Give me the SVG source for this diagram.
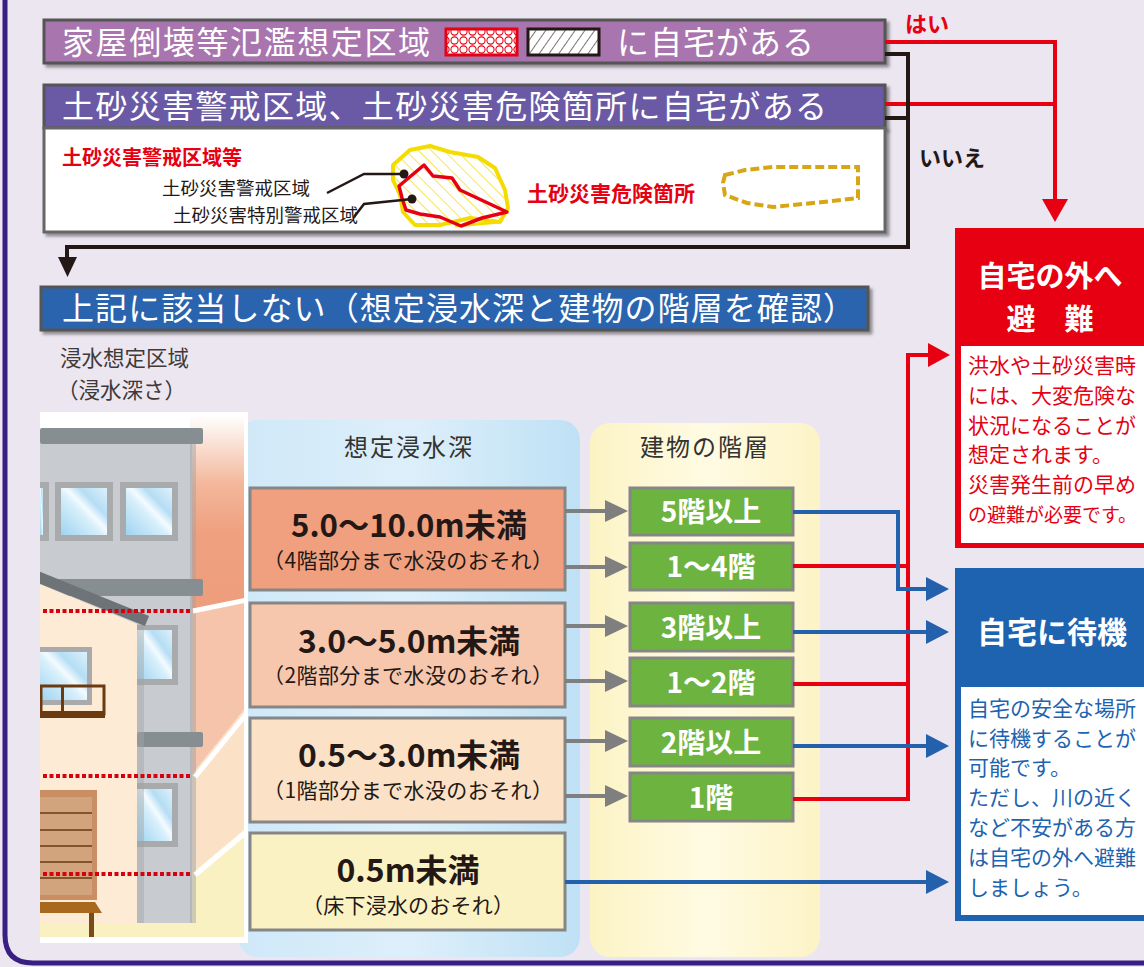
<svg xmlns="http://www.w3.org/2000/svg" width="1144" height="967" viewBox="0 0 1144 967">
  <defs>
    <style>
      .jp { font-family: "Noto Sans CJK JP", "Noto Sans", sans-serif; }
      .bar-text { font-family: "Noto Sans CJK JP", sans-serif; fill: #fff; font-size: 32px; }
      .bar { stroke: #555; stroke-width: 3; filter: url(#shadow); }
      .conn-red { fill: none; stroke: #E60012; stroke-width: 4; }
      .conn-blue { fill: none; stroke: #2461AD; stroke-width: 4; }
      .conn-black { fill: none; stroke: #231815; stroke-width: 4; }
      .conn-gray { fill: none; stroke: #7F7F7F; stroke-width: 4; }
      .depth-box { stroke: #868686; stroke-width: 3; }
      .depth-main { font-family: "Noto Sans CJK JP", sans-serif; font-weight: 700; font-size: 32px; fill: #231815; text-anchor: middle; }
      .depth-sub { font-family: "Noto Sans CJK JP", sans-serif; font-size: 21px; fill: #231815; text-anchor: middle; }
      .floor-box { fill: #6DB33F; stroke: #868686; stroke-width: 3; }
      .floor-text { font-family: "Noto Sans CJK JP", sans-serif; font-weight: 700; font-size: 28px; fill: #fff; text-anchor: middle; }
      .col-head { font-family: "Noto Sans CJK JP", sans-serif; font-size: 24px; fill: #333; text-anchor: middle; letter-spacing: 2px; }
      .red-note { font-family: "Noto Sans CJK JP", sans-serif; font-size: 21px; fill: #E60012; }
      .red-note.tight { font-size: 19px; }
      .blue-note { font-family: "Noto Sans CJK JP", sans-serif; font-size: 21px; fill: #1D63B0; }
      .glass { fill: url(#glassGrad); }
      .frame { fill: #A8AAAC; }
      .dots { stroke: #D7000F; stroke-width: 4; stroke-dasharray: 4 2.5; }
      .gap-line { stroke: #fff; stroke-width: 5; }
    </style>
    <filter id="shadow" x="-5%" y="-20%" width="110%" height="150%">
      <feDropShadow dx="3" dy="3" stdDeviation="1.5" flood-color="#444" flood-opacity="0.55"/>
    </filter>
    <pattern id="circles" width="9" height="9" patternUnits="userSpaceOnUse">
      <rect width="9" height="9" fill="#fff"/>
      <circle cx="4.5" cy="4.5" r="3.6" fill="none" stroke="#E60012" stroke-width="1.1"/>
    </pattern>
    <pattern id="hatchBlack" width="8" height="8" patternUnits="userSpaceOnUse" patternTransform="rotate(35)">
      <rect width="8" height="8" fill="#fff"/>
      <line x1="0" y1="0" x2="0" y2="8" stroke="#231815" stroke-width="1.2"/>
    </pattern>
    <pattern id="hatchYellow" width="9" height="9" patternUnits="userSpaceOnUse" patternTransform="rotate(-45)">
      <rect width="9" height="9" fill="#fff"/>
      <line x1="0" y1="0" x2="0" y2="9" stroke="#F2D600" stroke-width="1.3"/>
    </pattern>
    <linearGradient id="glassGrad" x1="0" y1="1" x2="1" y2="0">
      <stop offset="0" stop-color="#9FD3F0"/>
      <stop offset="0.45" stop-color="#D7EFFB"/>
      <stop offset="0.55" stop-color="#F4FBFF"/>
      <stop offset="0.7" stop-color="#B5DDF4"/>
      <stop offset="1" stop-color="#DDF1FC"/>
    </linearGradient>
    <linearGradient id="topBand" x1="0" y1="0" x2="0" y2="1">
      <stop offset="0" stop-color="#FFFFFF"/>
      <stop offset="0.35" stop-color="#F3B79B"/>
      <stop offset="0.6" stop-color="#EFA07F"/>
      <stop offset="1" stop-color="#EE9E7D"/>
    </linearGradient>
    <linearGradient id="bluePanel" x1="0" y1="0" x2="1" y2="0">
      <stop offset="0" stop-color="#CFE8F8"/>
      <stop offset="0.5" stop-color="#DDEFFA"/>
      <stop offset="1" stop-color="#BFE1F5"/>
    </linearGradient>
    <linearGradient id="yellowPanel" x1="0" y1="0" x2="1" y2="0">
      <stop offset="0" stop-color="#FCF3C4"/>
      <stop offset="0.5" stop-color="#FFFBE3"/>
      <stop offset="1" stop-color="#FCF3C6"/>
    </linearGradient>
    <clipPath id="illusClip">
      <rect x="40" y="412" width="208" height="531"/>
    </clipPath>
  </defs>

  <!-- page background and frame -->
  <rect x="0" y="0" width="1144" height="967" fill="#ECE6F1"/>
  <path d="M5,0 V935 Q5,963 33,963 H1144" fill="none" stroke="#3A1F82" stroke-width="5"/>

  <!-- step 1: inundation zone where houses may collapse -->
  <g id="q-collapse">
    <rect class="bar" x="44" y="20" width="841" height="43" fill="#A975AE"/>
    <text class="bar-text" x="62" y="54" textLength="368" lengthAdjust="spacing">家屋倒壊等氾濫想定区域</text>
    <rect x="446" y="29" width="71" height="26" fill="url(#circles)" stroke="#E60012" stroke-width="3"/>
    <rect x="528" y="29" width="71" height="26" fill="url(#hatchBlack)" stroke="#231815" stroke-width="3"/>
    <text class="bar-text" x="617" y="54" textLength="197" lengthAdjust="spacing">に自宅がある</text>
  </g>

  <!-- step 2: landslide warning zones -->
  <g id="q-landslide">
    <rect class="bar" x="44" y="85" width="841" height="43" fill="#6A5AA6"/>
    <text class="bar-text" x="62" y="118" textLength="765" lengthAdjust="spacing">土砂災害警戒区域、土砂災害危険箇所に自宅がある</text>
  </g>

  <!-- legend for landslide zones -->
  <g id="landslide-legend">
    <rect x="44" y="128" width="841" height="104" fill="#fff" stroke="#666" stroke-width="3" filter="url(#shadow)"/>
    <text class="jp" x="62" y="165" font-size="20" font-weight="700" fill="#E60012">土砂災害警戒区域等</text>
    <text class="jp" x="162" y="195" font-size="18.5" fill="#231815">土砂災害警戒区域</text>
    <text class="jp" x="173" y="222" font-size="18.5" fill="#231815">土砂災害特別警戒区域</text>
    <path d="M393,165 L410,150 L430,146 L450,152 L478,157 L495,168 L505,190 L508,208 L500,222 L470,218 L440,225 L415,225 L403,212 L400,195 L393,180 Z" fill="url(#hatchYellow)" stroke="#F5DC00" stroke-width="4" stroke-linejoin="round"/>
    <path d="M455,226 L500,222" stroke="#F5DC00" stroke-width="3"/>
    <path d="M399,186 L424,165 L433,176 L452,178 L460,190 L507,212 L482,218 L461,226 L440,217 L420,214 L406,210 L402,198 Z" fill="none" stroke="#E60012" stroke-width="3.5" stroke-linejoin="round"/>
    <path d="M327,193 L364,174 L404,174" fill="none" stroke="#231815" stroke-width="2.5"/>
    <circle cx="404" cy="174" r="4.5" fill="#231815"/>
    <path d="M354,217 L364,204 L412,199" fill="none" stroke="#231815" stroke-width="2.5"/>
    <circle cx="412" cy="199" r="4.5" fill="#231815"/>
    <text class="jp" x="527" y="201" font-size="21" font-weight="700" fill="#E60012">土砂災害危険箇所</text>
    <path d="M725,175 L745,170 L773,167 L858,167 L858,198 L823,202 L773,207 L747,203 L725,195 L723,183 Z" fill="none" stroke="#D8A514" stroke-width="4" stroke-dasharray="9 4"/>
  </g>

  <!-- step 3: otherwise check depth and floor -->
  <g id="q-other">
    <rect class="bar" x="41" y="287" width="827" height="43" fill="#2B63AE"/>
    <text class="bar-text" x="62" y="320" textLength="793" lengthAdjust="spacing">上記に該当しない（想定浸水深と建物の階層を確認）</text>
  </g>

  <!-- answer labels -->
  <text class="jp" x="905" y="32" font-size="22" font-weight="700" fill="#E60012">はい</text>
  <text class="jp" x="919" y="166" font-size="22" font-weight="700" fill="#231815">いいえ</text>

  <!-- area caption -->
  <g id="area-caption">
    <text class="jp" x="60" y="366" font-size="21.5" fill="#3E3A39">浸水想定区域</text>
    <text class="jp" x="57" y="398" font-size="21.5" fill="#3E3A39">（浸水深さ）</text>
  </g>

  <!-- column panels -->
  <rect x="238" y="420" width="342" height="537" rx="20" fill="url(#bluePanel)"/>
  <rect x="590" y="423" width="230" height="534" rx="20" fill="url(#yellowPanel)"/>
  <text class="col-head" x="409" y="456">想定浸水深</text>
  <text class="col-head" x="705" y="456">建物の階層</text>

  <!-- building cross-section illustration -->
  <g id="building" clip-path="url(#illusClip)">
    <rect x="40" y="412" width="208" height="531" fill="#fff"/>
    <polygon points="190,415 244,415 244,600 190,612" fill="url(#topBand)"/>
    <polygon points="190,612 244,600 244,710 190,777" fill="#F5C4AA"/>
    <polygon points="190,777 244,710 244,830 190,875" fill="#FBE1C6"/>
    <polygon points="190,875 244,830 244,937 190,937" fill="#FAF1C2"/>
    <rect x="40" y="923" width="204" height="14" fill="#FAF1C2"/>
    <!-- tall building -->
    <rect x="40" y="443" width="152" height="480" fill="#C8CCD1"/>
    <rect x="190" y="443" width="6" height="480" fill="#9FA3A7" opacity="0.5"/>
    <rect x="40" y="428" width="163" height="16" rx="2" fill="#878E92"/>
    <rect x="40" y="482" width="9" height="59" class="frame"/>
    <rect x="40" y="488" width="3" height="47" class="glass"/>
    <rect x="55" y="482" width="58" height="59" class="frame"/>
    <rect x="61" y="488" width="46" height="47" class="glass"/>
    <rect x="120" y="482" width="58" height="59" class="frame"/>
    <rect x="126" y="488" width="46" height="47" class="glass"/>
    <rect x="40" y="579" width="163" height="17" rx="2" fill="#878E92"/>
    <rect x="137" y="625" width="41" height="60" class="frame"/>
    <rect x="137" y="630" width="35" height="49" class="glass"/>
    <rect x="137" y="732" width="66" height="15" rx="2" fill="#878E92"/>
    <rect x="137" y="783" width="41" height="64" class="frame"/>
    <rect x="137" y="789" width="35" height="52" class="glass"/>
    <!-- low house -->
    <polygon points="40,584 137,624 137,923 40,923" fill="#FDEBD6"/>
    <rect x="137" y="624" width="7" height="299" fill="#9FA3A7" opacity="0.45"/>
    <line x1="36" y1="576" x2="147" y2="621" stroke="#6E7377" stroke-width="11"/>
    <rect x="40" y="647" width="52" height="58" class="frame"/>
    <rect x="40" y="652" width="47" height="48" class="glass"/>
    <rect x="41" y="686" width="63" height="28" fill="none" stroke="#6B3A10" stroke-width="3"/>
    <rect x="40" y="711" width="65" height="7" fill="#6B3A10"/>
    <rect x="61" y="686" width="3" height="28" fill="#6B3A10"/>
    <rect x="40" y="790" width="57" height="110" fill="#C98E64"/>
    <rect x="40" y="797" width="52" height="98" fill="#D2A47D"/>
    <g stroke="#6B3A10" stroke-width="1.5">
      <line x1="40" y1="813" x2="92" y2="813"/>
      <line x1="40" y1="830" x2="92" y2="830"/>
      <line x1="40" y1="846" x2="92" y2="846"/>
      <line x1="40" y1="862" x2="92" y2="862"/>
      <line x1="40" y1="878" x2="92" y2="878"/>
    </g>
    <polygon points="40,902 95,902 102,913 40,913" fill="#A8691F"/>
    <rect x="89" y="913" width="5" height="25" fill="#7A4A1A"/>
    <!-- water level markers -->
    <line class="dots" x1="43" y1="611" x2="191" y2="611"/>
    <line class="dots" x1="43" y1="776" x2="191" y2="776"/>
    <line class="dots" x1="43" y1="874" x2="191" y2="874"/>
    <line class="gap-line" x1="193" y1="611" x2="252" y2="599"/>
    <line class="gap-line" x1="195" y1="777" x2="252" y2="707"/>
    <line class="gap-line" x1="195" y1="875" x2="252" y2="827"/>
    <rect x="244" y="412" width="6" height="531" fill="#fff"/>
    <rect x="40" y="937" width="208" height="6" fill="#fff"/>
  </g>

  <!-- depth categories -->
  <g id="depth-5-10">
    <rect class="depth-box" x="250" y="488" width="315" height="102" fill="#F0A07F"/>
    <text class="depth-main" x="409" y="537" textLength="236" lengthAdjust="spacingAndGlyphs">5.0～10.0m未満</text>
    <text class="depth-sub" x="408" y="568" textLength="290">（4階部分まで水没のおそれ）</text>
  </g>
  <g id="depth-3-5">
    <rect class="depth-box" x="250" y="603" width="315" height="104" fill="#F6C7AD"/>
    <text class="depth-main" x="409" y="653" textLength="222" lengthAdjust="spacingAndGlyphs">3.0～5.0m未満</text>
    <text class="depth-sub" x="408" y="683" textLength="290">（2階部分まで水没のおそれ）</text>
  </g>
  <g id="depth-05-3">
    <rect class="depth-box" x="250" y="718" width="315" height="104" fill="#FBE1C6"/>
    <text class="depth-main" x="409" y="767" textLength="222" lengthAdjust="spacingAndGlyphs">0.5～3.0m未満</text>
    <text class="depth-sub" x="408" y="798" textLength="290">（1階部分まで水没のおそれ）</text>
  </g>
  <g id="depth-under-05">
    <rect class="depth-box" x="250" y="833" width="315" height="97" fill="#FAF2C3"/>
    <text class="depth-main" x="408" y="882">0.5m未満</text>
    <text class="depth-sub" x="408" y="913" textLength="212">（床下浸水のおそれ）</text>
  </g>

  <!-- floor categories -->
  <g id="floor-5up"><rect class="floor-box" x="630" y="488" width="163" height="47"/><text class="floor-text" x="711" y="522">5階以上</text></g>
  <g id="floor-1-4"><rect class="floor-box" x="630" y="543" width="163" height="47"/><text class="floor-text" x="711" y="577">1～4階</text></g>
  <g id="floor-3up"><rect class="floor-box" x="630" y="603" width="163" height="48"/><text class="floor-text" x="711" y="638">3階以上</text></g>
  <g id="floor-1-2"><rect class="floor-box" x="630" y="658" width="163" height="48"/><text class="floor-text" x="711" y="693">1～2階</text></g>
  <g id="floor-2up"><rect class="floor-box" x="630" y="718" width="163" height="48"/><text class="floor-text" x="711" y="753">2階以上</text></g>
  <g id="floor-1"><rect class="floor-box" x="630" y="773" width="163" height="48"/><text class="floor-text" x="711" y="808">1階</text></g>

  <!-- outcome: evacuate -->
  <g id="evacuate">
    <rect x="955" y="228" width="189" height="320" fill="#E60012"/>
    <text class="jp" x="1050" y="287" font-size="29" font-weight="700" fill="#fff" text-anchor="middle">自宅の外へ</text>
    <text class="jp" x="1050" y="330" font-size="29" font-weight="700" fill="#fff" text-anchor="middle">避　難</text>
    <rect x="961" y="346" width="183" height="197" fill="#fff"/>
    <text class="red-note" x="968" y="373">洪水や土砂災害時</text>
    <text class="red-note" x="968" y="403">には、大変危険な</text>
    <text class="red-note" x="968" y="433">状況になることが</text>
    <text class="red-note" x="968" y="462">想定されます。</text>
    <text class="red-note" x="968" y="492">災害発生前の早め</text>
    <text class="red-note tight" x="968" y="522">の避難が必要です。</text>
  </g>

  <!-- outcome: stay home -->
  <g id="stay-home">
    <rect x="955" y="568" width="189" height="353" fill="#1D63B0"/>
    <text class="jp" x="1052" y="643" font-size="30" font-weight="700" fill="#fff" text-anchor="middle">自宅に待機</text>
    <rect x="961" y="687" width="183" height="228" fill="#fff"/>
    <text class="blue-note" x="968" y="716">自宅の安全な場所</text>
    <text class="blue-note" x="968" y="746">に待機することが</text>
    <text class="blue-note" x="968" y="775">可能です。</text>
    <text class="blue-note" x="968" y="805">ただし、川の近く</text>
    <text class="blue-note" x="968" y="835">など不安がある方</text>
    <text class="blue-note" x="968" y="865">は自宅の外へ避難</text>
    <text class="blue-note" x="968" y="895">しましょう。</text>
  </g>

  <!-- connectors -->
  <g id="connectors">
    <!-- yes branches -->
    <path class="conn-red" d="M885,42 H1055 V200"/>
    <path d="M1042,199 L1068,199 L1055,222 Z" fill="#E60012"/>
    <path class="conn-red" d="M885,104 H1055"/>
    <!-- no branches -->
    <path class="conn-black" d="M885,54 H908 V247 H67 V258"/>
    <path class="conn-black" d="M885,118 H908"/>
    <path d="M58,257 L77,257 L67.5,277 Z" fill="#231815"/>
    <!-- depth to floor -->
    <path class="conn-gray" d="M565,511 H607"/>
    <path class="conn-gray" d="M565,567 H607"/>
    <path class="conn-gray" d="M565,626 H607"/>
    <path class="conn-gray" d="M565,681 H607"/>
    <path class="conn-gray" d="M565,741 H607"/>
    <path class="conn-gray" d="M565,796 H607"/>
    <g fill="#7F7F7F">
      <path d="M605,500 L628,511 L605,522 Z"/>
      <path d="M605,556 L628,567 L605,578 Z"/>
      <path d="M605,615 L628,626 L605,637 Z"/>
      <path d="M605,670 L628,681 L605,692 Z"/>
      <path d="M605,730 L628,741 L605,752 Z"/>
      <path d="M605,785 L628,796 L605,807 Z"/>
    </g>
    <!-- floors to evacuation -->
    <path class="conn-red" d="M793,566 H908"/>
    <path class="conn-red" d="M793,684 H908"/>
    <path class="conn-red" d="M793,799 H908 V355 H930"/>
    <path d="M928,343 L950,355 L928,367 Z" fill="#E60012"/>
    <!-- floors to stay home -->
    <path class="conn-blue" d="M793,512 H898 V589 H928"/>
    <path class="conn-blue" d="M793,632 H928"/>
    <path class="conn-blue" d="M793,746 H928"/>
    <path class="conn-blue" d="M565,882 H928"/>
    <g fill="#2461AD">
      <path d="M926,577 L949,589 L926,601 Z"/>
      <path d="M926,620 L949,632 L926,644 Z"/>
      <path d="M926,734 L949,746 L926,758 Z"/>
      <path d="M926,870 L949,882 L926,894 Z"/>
    </g>
  </g>
</svg>
